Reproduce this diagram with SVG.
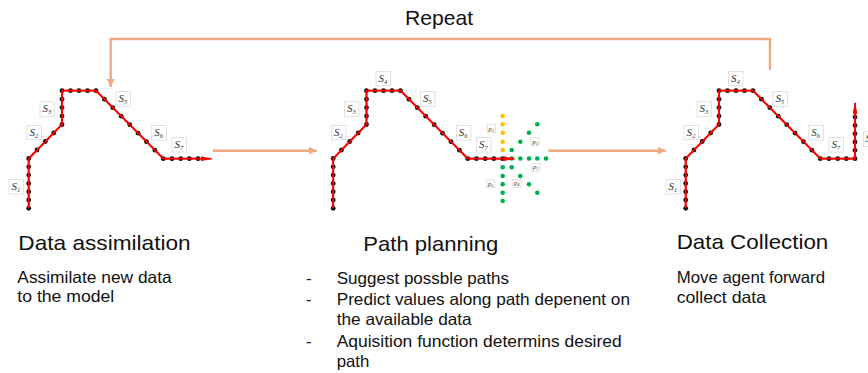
<svg xmlns="http://www.w3.org/2000/svg" xmlns:xlink="http://www.w3.org/1999/xlink" width="868" height="373" viewBox="0 0 868 373">
<style>
.path{fill:none;stroke:#ff0000;stroke-width:1.8;stroke-linejoin:miter}
.d{fill:#111}
.g{fill:#00b050}
.y{fill:#ffc000}
.conn{fill:none;stroke:#efaa84;stroke-width:2.4}
.lb{fill:#ffffff;stroke:#d4d4d4;stroke-width:0.7}
.ls{font-family:"Liberation Serif","DejaVu Serif",serif;font-style:italic;font-size:11px;fill:#333}
.sub{font-size:6.5px}
.ps{font-family:"Liberation Serif","DejaVu Serif",serif;font-style:italic;font-size:6.5px;fill:#333}
.title{font-family:"Liberation Sans",Arial,sans-serif;font-size:21px;fill:#111}
.body{font-family:"Liberation Sans",Arial,sans-serif;font-size:16.5px;fill:#111}
</style>
<defs>
<marker id="pk" markerUnits="userSpaceOnUse" markerWidth="10" markerHeight="9" refX="8" refY="4" orient="auto">
<path d="M0,0 L8,4 L0,8 z" fill="#efaa84"/>
</marker>
<marker id="rd" markerUnits="userSpaceOnUse" markerWidth="12" markerHeight="6" refX="11" refY="2.5" orient="auto">
<path d="M0,0 L11,2.5 L0,5 z" fill="#ff0000"/>
</marker>
<g id="traj">
<polyline class="path" points="28.7,208.3 28.7,158.5 62,124.5 62,90.7 96,90.7 163.3,158.7 198,158.7"/>
<g class="d">
<circle cx="28.7" cy="208.3" r="2.4"/><circle cx="28.7" cy="200" r="2.4"/><circle cx="28.7" cy="191.7" r="2.4"/><circle cx="28.7" cy="183.4" r="2.4"/><circle cx="28.7" cy="175.1" r="2.4"/><circle cx="28.7" cy="166.8" r="2.4"/><circle cx="28.7" cy="158.5" r="2.4"/>
<circle cx="37" cy="150" r="2.4"/><circle cx="45.3" cy="141.5" r="2.4"/><circle cx="53.7" cy="133" r="2.4"/><circle cx="62" cy="124.5" r="2.4"/>
<circle cx="62" cy="116.1" r="2.4"/><circle cx="62" cy="107.6" r="2.4"/><circle cx="62" cy="99.2" r="2.4"/><circle cx="62" cy="90.7" r="2.4"/>
<circle cx="70.5" cy="90.7" r="2.4"/><circle cx="79" cy="90.7" r="2.4"/><circle cx="87.5" cy="90.7" r="2.4"/><circle cx="96" cy="90.7" r="2.4"/>
<circle cx="104.4" cy="99.2" r="2.4"/><circle cx="112.8" cy="107.7" r="2.4"/><circle cx="121.2" cy="116.2" r="2.4"/><circle cx="129.7" cy="124.7" r="2.4"/><circle cx="138.1" cy="133.2" r="2.4"/><circle cx="146.5" cy="141.7" r="2.4"/><circle cx="154.9" cy="150.2" r="2.4"/><circle cx="163.3" cy="158.7" r="2.4"/>
<circle cx="172" cy="158.7" r="2.4"/><circle cx="180.7" cy="158.7" r="2.4"/><circle cx="189.3" cy="158.7" r="2.4"/><circle cx="198" cy="158.7" r="2.4"/>
</g>
<polyline class="path" stroke-width="1" points="28.7,208.3 28.7,158.5 62,124.5 62,90.7 96,90.7 163.3,158.7 198,158.7"/>
</g>
<g id="L1"><rect class="lb" x="9" y="179.5" width="14.5" height="14.5"/><text class="ls" x="11.5" y="190">S<tspan class="sub" dy="2">1</tspan></text></g>
<g id="L2"><rect class="lb" x="27" y="125.3" width="14.5" height="14.5"/><text class="ls" x="29.5" y="135.8">S<tspan class="sub" dy="2">2</tspan></text></g>
<g id="L3"><rect class="lb" x="40" y="101.8" width="14.5" height="14.5"/><text class="ls" x="42.5" y="112.3">S<tspan class="sub" dy="2">3</tspan></text></g>
<g id="L4"><rect class="lb" x="71.5" y="71.3" width="14.5" height="14.5"/><text class="ls" x="74" y="81.8">S<tspan class="sub" dy="2">4</tspan></text></g>
<g id="L5"><rect class="lb" x="116" y="91.7" width="14.5" height="14.5"/><text class="ls" x="118.5" y="102.2">S<tspan class="sub" dy="2">5</tspan></text></g>
<g id="L6"><rect class="lb" x="151.8" y="125.6" width="14.5" height="14.5"/><text class="ls" x="154.3" y="136.1">S<tspan class="sub" dy="2">6</tspan></text></g>
<g id="L7"><rect class="lb" x="172" y="137.5" width="14.5" height="14.5"/><text class="ls" x="174.5" y="148">S<tspan class="sub" dy="2">7</tspan></text></g>
</defs>
<rect width="868" height="373" fill="#ffffff"/>

<g id="connectors">
<polyline class="conn" points="770,70 770,39 110.7,39 110.7,87" marker-end="url(#pk)"/>
<line class="conn" x1="212.7" y1="150.7" x2="316.7" y2="150.7" marker-end="url(#pk)"/>
<line class="conn" x1="548.3" y1="150.7" x2="665.7" y2="150.7" marker-end="url(#pk)"/>
</g>

<g id="repeat-label">
<text class="title" x="405" y="25" textLength="68" lengthAdjust="spacingAndGlyphs">Repeat</text>
</g>

<g id="panel-assimilation">
<use xlink:href="#traj" href="#traj"/>
<line class="path" x1="198" y1="158.7" x2="211.7" y2="158.7" marker-end="url(#rd)"/>
<use xlink:href="#L1" href="#L1"/><use xlink:href="#L2" href="#L2"/><use xlink:href="#L3" href="#L3"/>
<use xlink:href="#L5" href="#L5"/><use xlink:href="#L6" href="#L6"/><use xlink:href="#L7" href="#L7"/>
<text class="title" x="18.3" y="250" textLength="172.4" lengthAdjust="spacingAndGlyphs">Data assimilation</text>
<text class="body" x="17.3" y="283.3" textLength="154.4" lengthAdjust="spacingAndGlyphs">Assimilate new data</text>
<text class="body" x="17.3" y="301.7" textLength="97" lengthAdjust="spacingAndGlyphs">to the model</text>
</g>

<g id="panel-planning">
<g class="g">
<circle cx="502.7" cy="167.3" r="2.3"/><circle cx="502.7" cy="176" r="2.3"/><circle cx="502.7" cy="184.3" r="2.3"/><circle cx="502.7" cy="192.7" r="2.3"/><circle cx="502.7" cy="201" r="2.3"/>
<circle cx="511.7" cy="158.5" r="2.3"/><circle cx="520.3" cy="158.5" r="2.3"/><circle cx="529" cy="158.5" r="2.3"/><circle cx="537.3" cy="158.5" r="2.3"/><circle cx="546" cy="158.5" r="2.3"/>
<circle cx="511.7" cy="150" r="2.3"/><circle cx="520.3" cy="141.7" r="2.3"/><circle cx="529" cy="132.7" r="2.3"/><circle cx="537.3" cy="124.3" r="2.3"/>
<circle cx="511.7" cy="167.3" r="2.3"/><circle cx="520.3" cy="176" r="2.3"/><circle cx="529" cy="184.3" r="2.3"/><circle cx="537.3" cy="192.7" r="2.3"/>
</g>
<g class="y">
<circle cx="502.7" cy="116" r="2.3"/><circle cx="502.7" cy="124.3" r="2.3"/><circle cx="502.7" cy="132.7" r="2.3"/><circle cx="502.7" cy="141.7" r="2.3"/><circle cx="502.7" cy="150" r="2.3"/>
</g>
<g transform="translate(304.5,0)">
<use xlink:href="#traj" href="#traj"/>
<line class="path" x1="198" y1="158.7" x2="210" y2="158.7" marker-end="url(#rd)"/>
<use xlink:href="#L2" href="#L2"/><use xlink:href="#L3" href="#L3"/><use xlink:href="#L4" href="#L4"/>
<use xlink:href="#L5" href="#L5"/><use xlink:href="#L6" href="#L6"/><use xlink:href="#L7" href="#L7"/>
</g>
<g id="p-labels">
<rect class="lb" x="487.3" y="124.3" width="8" height="8.4"/><text class="ps" x="488.6" y="130.6">p<tspan dy="1" font-size="4.5">1</tspan></text>
<rect class="lb" x="531" y="137.7" width="8.3" height="8"/><text class="ps" x="532.4" y="143.8">p<tspan dy="1" font-size="4.5">2</tspan></text>
<rect class="lb" x="531.7" y="163.3" width="8.3" height="8"/><text class="ps" x="533.1" y="169.4">p<tspan dy="1" font-size="4.5">3</tspan></text>
<rect class="lb" x="512.7" y="179.3" width="8.3" height="8"/><text class="ps" x="514.1" y="185.4">p<tspan dy="1" font-size="4.5">4</tspan></text>
<rect class="lb" x="486.7" y="179.7" width="8.3" height="8"/><text class="ps" x="488.1" y="185.8">p<tspan dy="1" font-size="4.5">5</tspan></text>
</g>
<text class="title" x="363.3" y="250.7" textLength="135" lengthAdjust="spacingAndGlyphs">Path planning</text>
<text class="body" x="306" y="284">-</text>
<text class="body" x="336.7" y="284" textLength="172.3" lengthAdjust="spacingAndGlyphs">Suggest possble paths</text>
<text class="body" x="306" y="305">-</text>
<text class="body" x="336.7" y="305" textLength="293.3" lengthAdjust="spacingAndGlyphs">Predict values along path depenent on</text>
<text class="body" x="336.7" y="325" textLength="135" lengthAdjust="spacingAndGlyphs">the available data</text>
<text class="body" x="306" y="346.7">-</text>
<text class="body" x="336.7" y="346.7" textLength="285" lengthAdjust="spacingAndGlyphs">Aquisition function determins desired</text>
<text class="body" x="336.7" y="366.7" textLength="32.7" lengthAdjust="spacingAndGlyphs">path</text>
</g>

<g id="panel-collection">
<g transform="translate(657,0)">
<use xlink:href="#traj" href="#traj"/>
<line class="path" x1="198" y1="158.7" x2="198" y2="102.7" marker-end="url(#rd)"/>
<g class="d">
<circle cx="198" cy="150.3" r="2.4"/><circle cx="198" cy="142" r="2.4"/><circle cx="198" cy="133.7" r="2.4"/><circle cx="198" cy="125.4" r="2.4"/><circle cx="198" cy="117.1" r="2.4"/>
</g>
<line class="path" stroke-width="1" x1="198" y1="158.7" x2="198" y2="112"/>
<use xlink:href="#L1" href="#L1"/><use xlink:href="#L2" href="#L2"/><use xlink:href="#L3" href="#L3"/><use xlink:href="#L4" href="#L4"/>
<use xlink:href="#L5" href="#L5"/><use xlink:href="#L6" href="#L6"/><use xlink:href="#L7" href="#L7"/>
</g>
<rect class="lb" x="863.5" y="131.8" width="14.5" height="14.5"/><text class="ls" x="865.5" y="142.3">S</text>
<text class="title" x="676.7" y="248.5" textLength="151.6" lengthAdjust="spacingAndGlyphs">Data Collection</text>
<text class="body" x="676.7" y="283.3" textLength="148.3" lengthAdjust="spacingAndGlyphs">Move agent forward</text>
<text class="body" x="676.7" y="302.5" textLength="89.3" lengthAdjust="spacingAndGlyphs">collect data</text>
</g>
</svg>
